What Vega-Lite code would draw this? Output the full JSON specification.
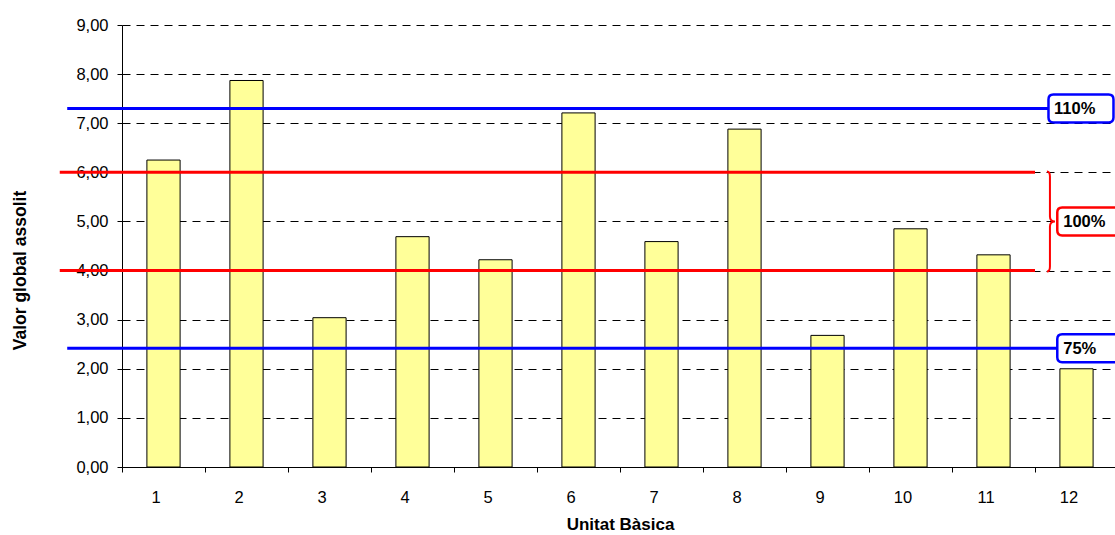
{
  "$schema": "https://vega.github.io/schema/vega-lite/v6.json",
  "width": 996,
  "height": 442,
  "autosize": "none",
  "padding": {"left": 122, "top": 25, "right": 0, "bottom": 68},
  "background": "white",
  "config": {
    "view": {"stroke": null},
    "font": "Liberation Sans",
    "locale": {"number": {"decimal": ",", "thousands": ".", "grouping": [3], "currency": ["", " €"]}}
  },
  "datasets": {
    "unitats": [
      {"ub": 1, "valor": 6.25},
      {"ub": 2, "valor": 7.87},
      {"ub": 3, "valor": 3.04},
      {"ub": 4, "valor": 4.69},
      {"ub": 5, "valor": 4.22},
      {"ub": 6, "valor": 7.21},
      {"ub": 7, "valor": 4.59},
      {"ub": 8, "valor": 6.88},
      {"ub": 9, "valor": 2.68},
      {"ub": 10, "valor": 4.85},
      {"ub": 11, "valor": 4.32},
      {"ub": 12, "valor": 2.0}
    ],
    "blau": [{"nivell": "110%", "valor": 7.3}, {"nivell": "75%", "valor": 2.42}],
    "vermell": [{"valor": 6}, {"valor": 4}],
    "clau": [{"valor": 5}],
    "etiquetes": [
      {"nivell": "110%", "valor": 7.3},
      {"nivell": "100%", "valor": 5},
      {"nivell": "75%", "valor": 2.42}
    ]
  },
  "layer": [
    {
      "data": {"name": "unitats"},
      "mark": {"type": "bar", "fill": "#FFFF99", "stroke": "#000000", "strokeWidth": 1, "width": {"band": 0.4}},
      "encoding": {
        "x": {
          "field": "ub",
          "type": "ordinal",
          "scale": {"paddingInner": 0, "paddingOuter": 0},
          "axis": {
            "title": "Unitat Bàsica",
            "labelAngle": 0,
            "tickBand": "extent",
            "tickSize": 5,
            "tickColor": "#000000",
            "domainColor": "#000000",
            "labelColor": "#000000",
            "labelFontSize": 16.5,
            "labelPadding": 17,
            "labelOffset": -8,
            "titleFontSize": 17,
            "titleFontWeight": "bold",
            "titleColor": "#000000",
            "titlePadding": 11
          }
        },
        "y": {
          "field": "valor",
          "type": "quantitative",
          "scale": {"domain": [0, 9], "nice": false},
          "axis": {
            "title": "Valor global assolit",
            "values": [0, 1, 2, 3, 4, 5, 6, 7, 8, 9],
            "format": ".2f",
            "grid": true,
            "gridDash": [8, 6],
            "gridColor": "#000000",
            "gridOpacity": 1,
            "gridWidth": 1,
            "tickSize": 5,
            "tickColor": "#000000",
            "domainColor": "#000000",
            "labelColor": "#000000",
            "labelFontSize": 16.5,
            "labelPadding": 9,
            "titleFontSize": 17.5,
            "titleFontWeight": "bold",
            "titleColor": "#000000",
            "titlePadding": 46,
            "titleY": 245
          }
        }
      }
    },
    {
      "data": {"name": "vermell"},
      "mark": {"type": "rule", "color": "#FF0000", "strokeWidth": 3},
      "encoding": {
        "y": {"field": "valor", "type": "quantitative"},
        "x": {"datum": 1, "type": "ordinal", "bandPosition": -0.75},
        "x2": {"datum": 12, "bandPosition": 0}
      }
    },
    {
      "data": {"name": "blau"},
      "mark": {"type": "rule", "color": "#0000FF", "strokeWidth": 3},
      "encoding": {
        "y": {"field": "valor", "type": "quantitative"},
        "x": {"datum": 1, "type": "ordinal", "bandPosition": -0.66},
        "x2": {"datum": 12, "bandPosition": 0.27}
      }
    },
    {
      "data": {"name": "clau"},
      "mark": {
        "type": "point",
        "shape": "M-0.06,-1Q0,-1 0,-0.9L0,-0.1Q0,0 0.1,0Q0,0 0,0.1L0,0.9Q0,1 -0.06,1",
        "filled": false,
        "stroke": "#FF0000",
        "strokeWidth": 2,
        "opacity": 1,
        "size": 10000
      },
      "encoding": {
        "y": {"field": "valor", "type": "quantitative"},
        "x": {"datum": 12, "type": "ordinal", "bandPosition": 0.18}
      }
    },
    {
      "data": {"name": "etiquetes"},
      "transform": [{"filter": "datum.nivell == '110%'"}],
      "layer": [
        {
          "mark": {
            "type": "point",
            "shape": "M-0.85,-0.43L0.85,-0.43Q1,-0.43 1,-0.28L1,0.28Q1,0.43 0.85,0.43L-0.85,0.43Q-1,0.43 -1,0.28L-1,-0.28Q-1,-0.43 -0.85,-0.43Z",
            "filled": true,
            "fill": "#FFFFFF",
            "strokeWidth": 2.5,
            "opacity": 1,
            "size": 4225
          },
          "encoding": {
            "y": {"field": "valor", "type": "quantitative"},
            "x": {"datum": 12, "type": "ordinal", "bandPosition": 0.554},
            "stroke": {"field": "nivell", "type": "nominal", "scale": {"domain": ["110%", "100%", "75%"], "range": ["#0000FF", "#FF0000", "#0000FF"]}, "legend": null}
          }
        },
        {
          "mark": {"type": "text", "align": "left", "baseline": "middle", "fontWeight": "bold", "fontSize": 16.5, "color": "#000000", "dy": 1},
          "encoding": {
            "y": {"field": "valor", "type": "quantitative"},
            "x": {"datum": 12, "type": "ordinal", "bandPosition": 0.23},
            "text": {"field": "nivell"}
          }
        }
      ]
    },
    {
      "data": {"name": "etiquetes"},
      "transform": [{"filter": "datum.nivell != '110%'"}],
      "layer": [
        {
          "mark": {
            "type": "point",
            "shape": "M-0.85,-0.43L0.85,-0.43Q1,-0.43 1,-0.28L1,0.28Q1,0.43 0.85,0.43L-0.85,0.43Q-1,0.43 -1,0.28L-1,-0.28Q-1,-0.43 -0.85,-0.43Z",
            "filled": true,
            "fill": "#FFFFFF",
            "strokeWidth": 2.5,
            "opacity": 1,
            "size": 4225
          },
          "encoding": {
            "y": {"field": "valor", "type": "quantitative"},
            "x": {"datum": 12, "type": "ordinal", "bandPosition": 0.66},
            "stroke": {"field": "nivell", "type": "nominal", "scale": {"domain": ["110%", "100%", "75%"], "range": ["#0000FF", "#FF0000", "#0000FF"]}, "legend": null}
          }
        },
        {
          "mark": {"type": "text", "align": "left", "baseline": "middle", "fontWeight": "bold", "fontSize": 16.5, "color": "#000000", "dy": 1},
          "encoding": {
            "y": {"field": "valor", "type": "quantitative"},
            "x": {"datum": 12, "type": "ordinal", "bandPosition": 0.34},
            "text": {"field": "nivell"}
          }
        }
      ]
    }
  ]
}
